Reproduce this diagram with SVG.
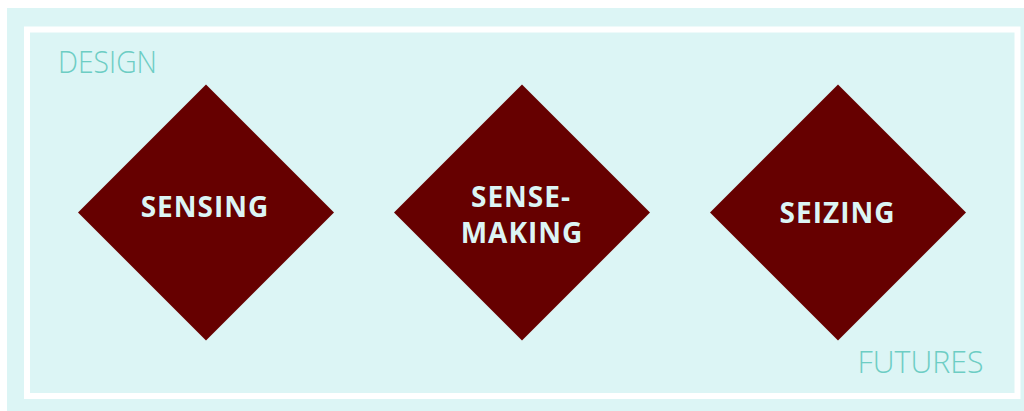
<svg xmlns="http://www.w3.org/2000/svg" width="1024" height="411" viewBox="0 0 1024 411">
  <style>
    .bg { fill: #dcf5f5; }
    .frame { fill: none; stroke: #ffffff; stroke-width: 6; }
    .corner { font-family: "Open Sans", "Liberation Sans", sans-serif; font-weight: 300; font-size: 31px; fill: #6dcdc4; }
    .diamond { fill: #660000; }
    .label { font-family: "Open Sans", "Liberation Sans", sans-serif; font-weight: 700; font-size: 28px; fill: #dcf5f5; text-anchor: middle; letter-spacing: 1px; }
  </style>
  <rect x="0" y="0" width="1024" height="411" fill="#ffffff"/>
  <rect class="bg" x="7" y="8" width="1017" height="403"/>
  <rect class="frame" x="27" y="29.5" width="990.5" height="366.5"/>
  <g id="design-label">
    <text class="corner" x="58" y="72.7" textLength="99" lengthAdjust="spacingAndGlyphs">DESIGN</text>
  </g>
  <g id="futures-label">
    <text class="corner" x="857.5" y="372.7" textLength="126" lengthAdjust="spacingAndGlyphs">FUTURES</text>
  </g>
  <g id="connectors"></g>
  <g id="sensing">
    <polygon class="diamond" points="206,84.5 334,212.5 206,340.5 78,212.5"/>
    <text class="label" x="205" y="217.3">SENSING</text>
  </g>
  <g id="sense-making">
    <polygon class="diamond" points="522,84.5 650,212.5 522,340.5 394,212.5"/>
    <text class="label" x="521" y="207">SENSE-</text>
    <text class="label" x="522" y="243.3">MAKING</text>
  </g>
  <g id="seizing">
    <polygon class="diamond" points="838,84.5 966,212.5 838,340.5 710,212.5"/>
    <text class="label" x="837.5" y="223.3">SEIZING</text>
  </g>
</svg>
